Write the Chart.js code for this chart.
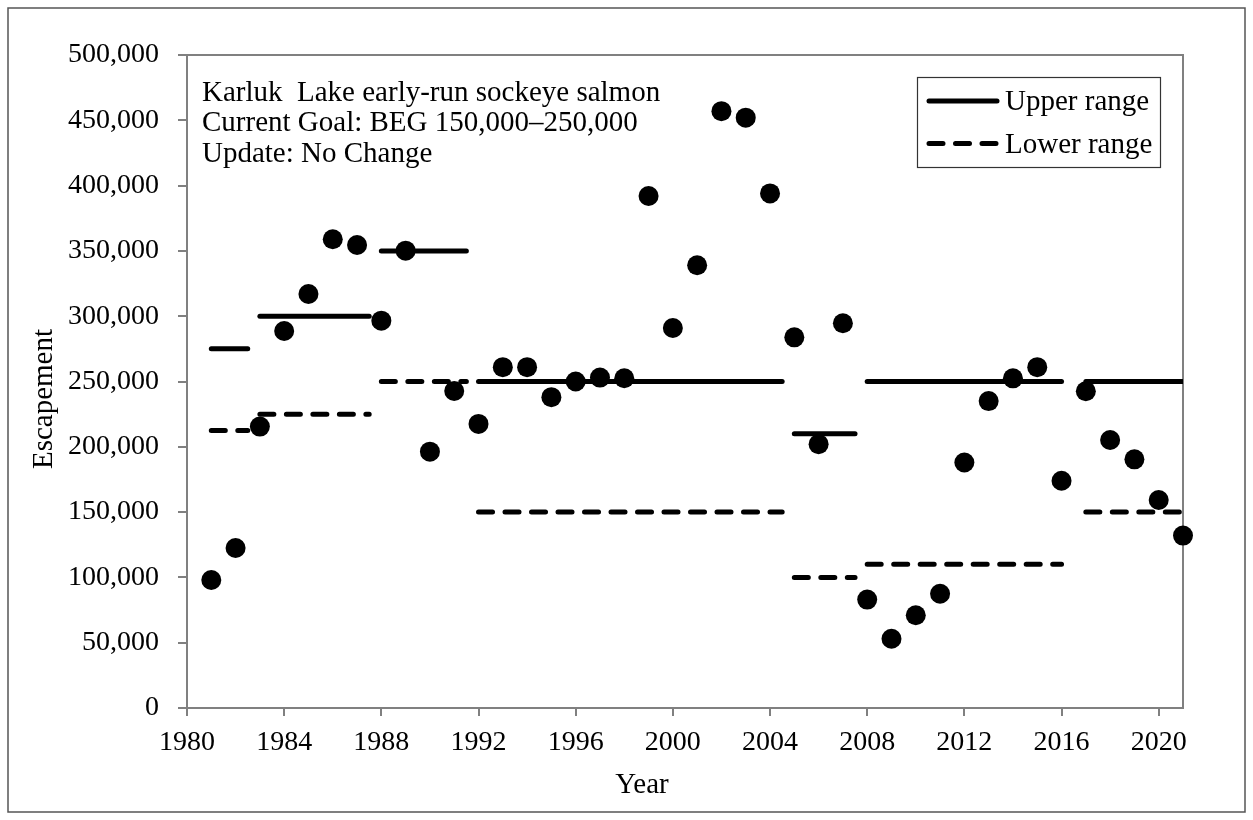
<!DOCTYPE html>
<html><head><meta charset="utf-8">
<script src="https://cdn.jsdelivr.net/npm/chart.js@4.4.1/dist/chart.umd.min.js"></script>
<style>html,body{margin:0;padding:0;background:#fff}#wrap{width:1253px;height:820px;position:relative}</style>
</head><body><div id="wrap"><canvas id="c"></canvas></div>
<script>
// ---- data ----
const years = [1981,1982,1983,1984,1985,1986,1987,1988,1989,1990,
               1991,1992,1993,1994,1995,1996,1997,1998,1999,2000,
               2001,2002,2003,2004,2005,2006,2007,2008,2009,2010,
               2011,2012,2013,2014,2015,2016,2017,2018,2019,2020,2021];
const escapement = [98000,122500,215500,288700,317000,358900,354500,296600,350200,196300,
                    242700,217500,261000,261000,238000,250000,253000,252500,392000,291000,
                    339000,457000,452000,394000,283800,202000,294600,83000,53000,71000,
                    87500,188000,235000,252400,261000,174000,242500,205200,190400,159300,132000];
// goal periods (start / end of each horizontal goal segment)
const goalStart  = [1981, 1983,   1988,   1992,   2005,   2008,   2017];
const goalEnd    = [1982.5, 1987.5, 1991.5, 2004.5, 2007.5, 2016, 2021];
const upperRange = [275000, 300000, 350000, 250000, 210000, 250000, 250000];
const lowerRange = [212500, 225000, 250000, 150000, 100000, 110000, 150000];
const xTickLabels = [1980,1984,1988,1992,1996,2000,2004,2008,2012,2016,2020];
const noteLines = ['Karluk  Lake early-run sockeye salmon','Current Goal: BEG 150,000\u2013250,000','Update: No Change'];
const legendLabels = ['Upper range','Lower range'];
const xTitle = 'Year', yTitle = 'Escapement';

// ---- styles ----
const FONT = '"Liberation Serif", "Times New Roman", serif';
const AXIS_GRAY = '#808080';
const DASH = [14, 12.5];
Chart.defaults.font.family = FONT;
Chart.defaults.font.size = 28;
Chart.defaults.color = '#000';

const datasets = [{
  type: 'scatter',
  data: years.map((y, i) => ({x: y, y: escapement[i]})),
  pointRadius: 10, pointHoverRadius: 10,
  backgroundColor: '#000', borderWidth: 0, clip: false
}];
goalStart.forEach((s, i) => {
  datasets.push({
    type: 'line', data: [{x: s, y: upperRange[i]}, {x: goalEnd[i], y: upperRange[i]}],
    borderColor: '#000', borderWidth: 5, borderCapStyle: 'round', pointRadius: 0, fill: false
  });
  datasets.push({
    type: 'line', data: [{x: s, y: lowerRange[i]}, {x: goalEnd[i], y: lowerRange[i]}],
    borderColor: '#000', borderWidth: 5, borderCapStyle: 'round', borderDash: DASH, pointRadius: 0, fill: false
  });
});

const decor = {
  id: 'decor',
  beforeDatasetsDraw(chart) {
    const ctx = chart.ctx, a = chart.chartArea;
    ctx.save();
    ctx.strokeStyle = AXIS_GRAY; ctx.lineWidth = 2;
    ctx.strokeRect(a.left, a.top, a.right - a.left, a.bottom - a.top);
    ctx.restore();
  },
  afterDraw(chart) {
    const ctx = chart.ctx, a = chart.chartArea;
    ctx.save();
    // outer frame
    ctx.strokeStyle = '#555'; ctx.lineWidth = 1.5;
    ctx.strokeRect(8, 8, 1237, 804);
    // note text
    ctx.fillStyle = '#000';
    ctx.font = '29px ' + FONT;
    ctx.textAlign = 'left'; ctx.textBaseline = 'alphabetic';
    noteLines.forEach((t, i) => ctx.fillText(t, a.left + 15, a.top + 46 + i * 30.3));
    // legend
    const bx = 917.5, by = 77.5, bw = 243, bh = 90;
    ctx.strokeStyle = '#333'; ctx.lineWidth = 1.2;
    ctx.strokeRect(bx, by, bw, bh);
    ctx.strokeStyle = '#000'; ctx.lineWidth = 5; ctx.lineCap = 'round';
    [101, 143.5].forEach((yy, i) => {
      ctx.setLineDash(i === 1 ? DASH : []);
      ctx.beginPath(); ctx.moveTo(929, yy); ctx.lineTo(997, yy); ctx.stroke();
      ctx.fillText(legendLabels[i], 1005, yy + 9);
    });
    ctx.setLineDash([]);
    // axis titles
    ctx.textAlign = 'center';
    ctx.fillText(xTitle, 642, 793);
    ctx.translate(52, 399);
    ctx.rotate(-Math.PI / 2);
    ctx.fillText(yTitle, 0, 0);
    ctx.restore();
  }
};

new Chart(document.getElementById('c'), {
  type: 'scatter',
  data: {datasets},
  options: {
    responsive: true, maintainAspectRatio: false, animation: false,
    layout: {padding: {left: 0, right: 70, top: 55, bottom: 0}},
    plugins: {legend: {display: false}, tooltip: {enabled: false}},
    scales: {
      x: {
        type: 'linear', min: 1980, max: 2021,
        afterFit: s => { s.height = 112; },
        afterBuildTicks: s => { s.ticks = xTickLabels.map(v => ({value: v})); },
        ticks: {stepSize: 4, includeBounds: false, padding: 10, maxRotation: 0, autoSkip: false,
                callback: v => String(v), color: '#000'},
        grid: {display: true, drawOnChartArea: false, drawTicks: true, tickLength: 8, color: AXIS_GRAY, lineWidth: 2},
        border: {display: true, color: AXIS_GRAY, width: 2}
      },
      y: {
        min: 0, max: 500000,
        afterFit: s => { s.width = 187; },
        ticks: {stepSize: 50000, padding: 19, color: '#000',
                callback: v => v.toLocaleString('en-US')},
        grid: {display: true, drawOnChartArea: false, drawTicks: true, tickLength: 9, color: AXIS_GRAY, lineWidth: 2},
        border: {display: true, color: AXIS_GRAY, width: 2}
      }
    }
  },
  plugins: [decor]
});
</script></body></html>
